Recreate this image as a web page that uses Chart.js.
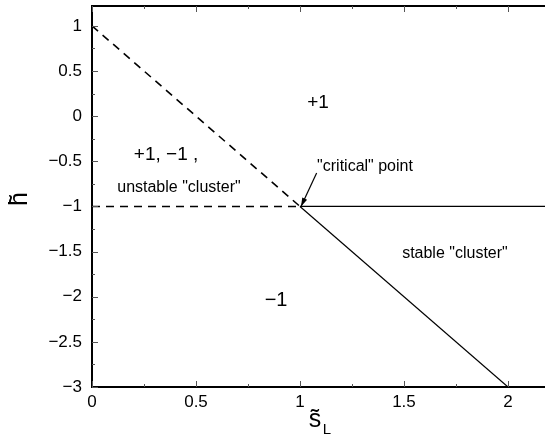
<!DOCTYPE html>
<html>
<head>
<meta charset="utf-8">
<script src="https://cdn.jsdelivr.net/npm/chart.js@4.4.1/dist/chart.umd.min.js"></script>
<style>
  html, body { margin: 0; padding: 0; background: #fff; overflow: hidden; }
  canvas { display: block; }
</style>
</head>
<body>
<canvas id="grafico" width="545" height="438"></canvas>
<script>
// boundary lines of the phase diagram (s_L, h)
const upperDashedX = [0, 1];
const upperDashedY = [1, -1];
const lowerDashedX = [0, 1];
const lowerDashedY = [-1, -1];
const flatSolidX = [1, 2.18];
const flatSolidY = [-1, -1];
const slopeSolidX = [1, 2];
const slopeSolidY = [-1, -3];

const xTicks = [0, 0.5, 1, 1.5, 2];
const yTicks = [1, 0.5, 0, -0.5, -1, -1.5, -2, -2.5, -3];
const xMin = 0, xMax = 2.178;
const yMin = -3, yMax = 1.22;

// region labels, in data coordinates
const labelTexts = ["+1", "+1, \u22121 ,", "unstable \"cluster\"", "\"critical\" point", "stable \"cluster\"", "\u22121"];
const labelX = [1.087, 0.356, 0.418, 1.3125, 1.745, 0.885];
const labelY = [0.144, -0.433, -0.789, -0.556, -1.522, -2.044];
const labelSize = [19, 19, 16, 16, 16, 20];

const arrowFrom = [1.08, -0.63];
const arrowTo = [1.005, -1.0];

function pts(xs, ys) {
  return xs.map((x, i) => ({ x: x, y: ys[i] }));
}

const FONT = "'Liberation Sans', Arial, Helvetica, sans-serif";

const fmt = v => String(v).replace("-", "\u2212");

const decor = {
  id: "decor",
  afterDraw(chart) {
    const ctx = chart.ctx;
    const a = chart.chartArea;
    const sx = chart.scales.x, sy = chart.scales.y;
    ctx.save();
    ctx.strokeStyle = "#000";
    ctx.fillStyle = "#000";

    // frame: left, bottom, top
    ctx.lineWidth = 2;
    ctx.beginPath();
    ctx.moveTo(a.right, a.top);
    ctx.lineTo(a.left, a.top);
    ctx.lineTo(a.left, a.bottom);
    ctx.lineTo(a.right, a.bottom);
    ctx.stroke();

    // inward ticks
    ctx.lineWidth = 1;
    ctx.strokeStyle = "#555";
    ctx.beginPath();
    for (let v = 0; v <= xMax; v += 0.25) {
      const px = Math.round(sx.getPixelForValue(v)) + 0.5;
      const len = Math.abs(v * 2 - Math.round(v * 2)) < 1e-6 ? 6 : 3;
      ctx.moveTo(px, a.bottom); ctx.lineTo(px, a.bottom - len);
      ctx.moveTo(px, a.top); ctx.lineTo(px, a.top + len);
    }
    for (let v = yMin; v <= yMax; v += 0.25) {
      const py = Math.round(sy.getPixelForValue(v)) + 0.5;
      const len = Math.abs(v * 2 - Math.round(v * 2)) < 1e-6 ? 6 : 3;
      ctx.moveTo(a.left, py); ctx.lineTo(a.left + len, py);
    }
    ctx.stroke();

    // labels
    ctx.textAlign = "center";
    ctx.textBaseline = "middle";
    labelTexts.forEach((t, i) => {
      ctx.font = labelSize[i] + "px " + FONT;
      ctx.fillText(t, sx.getPixelForValue(labelX[i]), sy.getPixelForValue(labelY[i]));
    });

    // arrow to the critical point
    const x0 = sx.getPixelForValue(arrowFrom[0]), y0 = sy.getPixelForValue(arrowFrom[1]);
    const x1 = sx.getPixelForValue(arrowTo[0]), y1 = sy.getPixelForValue(arrowTo[1]);
    ctx.strokeStyle = "#000";
    ctx.lineWidth = 1.2;
    ctx.beginPath();
    ctx.moveTo(x0, y0); ctx.lineTo(x1, y1);
    ctx.stroke();
    const ang = Math.atan2(y1 - y0, x1 - x0);
    ctx.beginPath();
    ctx.moveTo(x1, y1);
    ctx.lineTo(x1 - 9 * Math.cos(ang - 0.3), y1 - 9 * Math.sin(ang - 0.3));
    ctx.lineTo(x1 - 9 * Math.cos(ang + 0.3), y1 - 9 * Math.sin(ang + 0.3));
    ctx.closePath();
    ctx.fill();

    // axis titles
    ctx.font = "25px " + FONT;
    ctx.save();
    ctx.translate(20, 199);
    ctx.rotate(-Math.PI / 2);
    ctx.fillText("h\u0303", 0, 0);
    ctx.restore();

    const tx = sx.getPixelForValue(1) + 15;
    ctx.font = "25px " + FONT;
    ctx.fillText("s\u0303", tx, 420);
    ctx.font = "15px " + FONT;
    ctx.fillText("L", tx + 12, 430);
    ctx.restore();
  }
};

const lineStyle = (data, dashed) => ({
  data: data,
  showLine: true,
  borderColor: "#000",
  borderWidth: dashed ? 1.6 : 1.2,
  borderDash: dashed ? [8, 6] : [],
  pointRadius: 0,
  fill: false
});

new Chart(document.getElementById("grafico"), {
  type: "scatter",
  data: {
    datasets: [
      lineStyle(pts(upperDashedX, upperDashedY), true),
      lineStyle(pts(lowerDashedX, lowerDashedY), true),
      lineStyle(pts(flatSolidX, flatSolidY), false),
      lineStyle(pts(slopeSolidX, slopeSolidY), false)
    ]
  },
  options: {
    responsive: false,
    animation: false,
    devicePixelRatio: 1,
    layout: { padding: { top: 6, right: 0, left: 0, bottom: 0 } },
    plugins: { legend: { display: false }, tooltip: { enabled: false } },
    scales: {
      x: {
        type: "linear",
        min: xMin, max: xMax,
        afterBuildTicks: s => { s.ticks = xTicks.map(v => ({ value: v })); },
        afterFit: s => { s.height = 51; s.paddingLeft = 0; s.paddingRight = 0; },
        grid: { display: false, drawTicks: false },
        border: { display: false },
        ticks: { color: "#000", font: { family: FONT, size: 17 }, padding: 5, maxRotation: 0, callback: fmt }
      },
      y: {
        type: "linear",
        min: yMin, max: yMax,
        afterBuildTicks: s => { s.ticks = yTicks.map(v => ({ value: v })); },
        afterFit: s => { s.width = 92; s.paddingTop = 0; s.paddingBottom = 0; },
        grid: { display: false, drawTicks: false },
        border: { display: false },
        ticks: { color: "#000", font: { family: FONT, size: 17 }, padding: 10, callback: fmt }
      }
    }
  },
  plugins: [decor]
});
</script>
</body>
</html>
